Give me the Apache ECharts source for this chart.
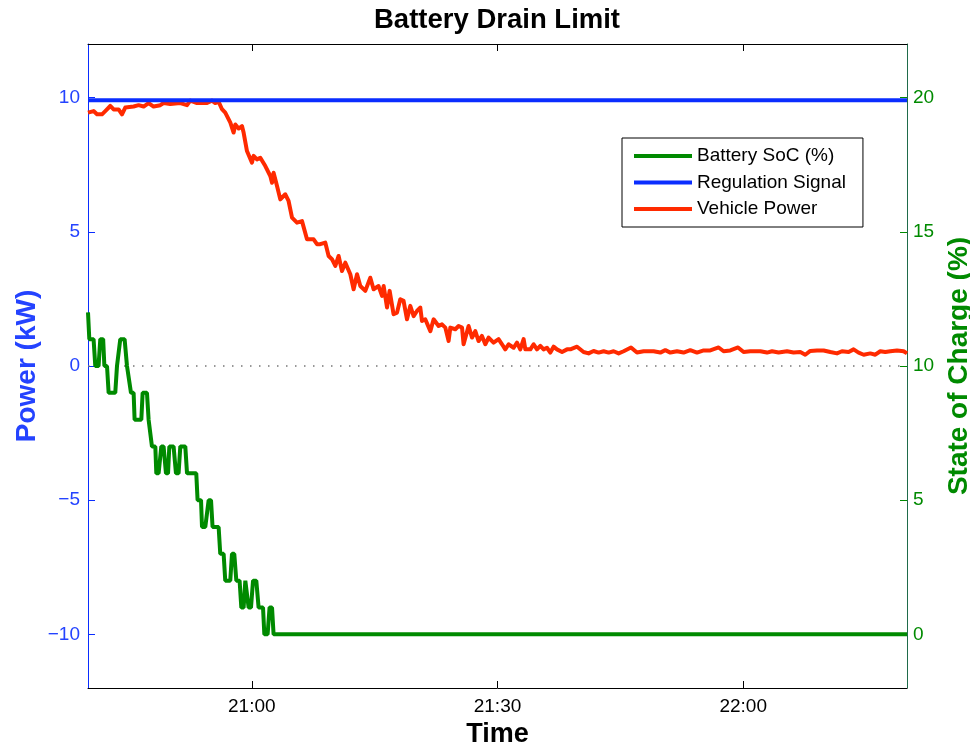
<!DOCTYPE html>
<html>
<head>
<meta charset="utf-8">
<script src="https://cdn.jsdelivr.net/npm/echarts@6/dist/echarts.min.js"></script>
<style>html,body{margin:0;padding:0;background:#fff;overflow:hidden;}#chart{width:970px;height:745px;}</style>
</head>
<body>
<div id="chart"></div>
<script>
// Time is given in minutes after 20:00
const timeTicks = [60, 90, 120];
const timeTickLabels = ['21:00', '21:30', '22:00'];
const powerTicks = [-10, -5, 0, 5, 10];
const socTicks = [0, 5, 10, 15, 20];

const regulationTime = [40, 140];
const regulationKW = [9.9, 9.9];

const vehicleTime = [40.00,40.68,41.10,41.71,42.11,42.72,43.13,43.74,44.15,44.55,45.57,46.18,46.79,47.40,48.01,48.83,49.23,50.05,51.27,52.09,52.49,53.31,54.53,55.14,55.54,55.95,56.36,56.76,56.97,57.38,57.78,57.99,58.39,58.80,59.00,59.41,60.02,60.22,60.63,61.04,61.65,62.26,62.47,62.66,63.08,63.48,64.09,64.49,64.91,65.52,66.13,66.74,67.55,67.96,68.36,68.97,69.38,69.79,70.20,70.60,71.01,71.42,72.03,72.43,72.85,73.25,73.86,74.47,74.87,75.48,75.90,76.10,76.51,76.83,77.31,77.73,78.13,78.53,78.95,79.35,79.76,80.17,80.57,80.78,81.18,81.80,82.20,82.81,83.22,83.63,84.03,84.24,84.85,85.25,85.67,85.86,86.47,86.89,87.29,87.69,88.10,88.51,88.91,89.52,90.13,90.55,90.95,91.36,91.97,92.38,92.78,93.19,93.40,94.01,94.41,94.82,95.23,95.63,96.04,96.45,96.85,97.26,97.88,98.49,98.89,99.71,100.51,101.12,101.73,102.34,102.96,103.57,104.18,104.79,105.40,106.30,107.03,107.84,109.06,109.88,110.49,111.10,111.92,112.72,113.54,114.36,115.17,115.98,117.00,117.61,118.42,119.37,120.05,120.87,122.09,122.91,123.52,124.32,125.35,126.15,126.97,127.58,128.19,129.01,129.82,130.64,131.45,132.06,132.87,133.48,134.09,134.71,135.52,136.13,136.74,137.35,137.96,138.78,139.59,140.00];
const vehicleKW = [9.44,9.50,9.38,9.38,9.50,9.69,9.56,9.56,9.38,9.63,9.67,9.72,9.67,9.80,9.67,9.72,9.80,9.76,9.80,9.72,9.89,9.80,9.80,9.89,9.80,9.85,9.57,9.44,9.38,9.07,8.70,9.00,8.85,8.94,8.70,8.01,7.58,7.83,7.70,7.76,7.45,7.08,6.83,7.20,6.71,6.21,6.40,6.15,5.53,5.34,5.40,4.72,4.72,4.54,4.54,4.60,4.10,3.98,3.73,4.10,3.54,3.85,3.42,2.86,3.42,2.98,2.80,3.29,2.86,2.98,2.61,2.98,2.18,2.80,1.93,1.99,2.49,2.43,1.74,2.24,1.86,2.05,2.18,1.68,1.74,1.30,1.74,1.49,1.55,1.43,0.93,1.43,1.37,1.49,1.43,0.81,1.49,1.06,1.30,0.93,1.12,0.81,1.06,0.87,1.00,0.81,0.62,0.81,0.68,0.87,0.62,1.00,0.62,0.62,0.81,0.62,0.75,0.62,0.68,0.50,0.72,0.62,0.52,0.62,0.62,0.72,0.52,0.47,0.56,0.50,0.55,0.50,0.55,0.47,0.55,0.69,0.50,0.55,0.55,0.50,0.59,0.50,0.55,0.50,0.59,0.50,0.58,0.58,0.69,0.55,0.58,0.69,0.52,0.55,0.55,0.50,0.55,0.50,0.55,0.50,0.52,0.42,0.56,0.58,0.58,0.52,0.47,0.55,0.52,0.62,0.50,0.42,0.47,0.42,0.55,0.52,0.55,0.58,0.55,0.47];

const socTime = [40.00,40.16,40.68,40.89,41.29,41.50,41.85,42.00,42.32,42.52,43.33,43.54,43.74,43.94,44.47,44.76,44.96,45.25,45.57,45.69,46.51,46.67,47.20,47.40,47.61,47.81,48.22,48.34,48.62,48.95,49.23,49.52,49.77,49.93,50.45,50.74,51.06,51.27,51.88,52.09,53.22,53.38,53.80,53.92,54.32,54.73,55.02,55.21,55.95,56.15,56.56,56.76,57.37,57.58,57.86,58.11,58.51,58.72,59.00,59.21,59.41,59.61,59.90,60.15,60.55,60.83,61.37,61.53,61.93,62.17,62.47,62.66,140.00];
const socPct = [12,11,11,10,10,11,11,10,10,9,9,10,10,11,11,10,10,9,9,8,8,9,9,8,8,7,7,6,6,7,7,6,6,7,7,6,6,7,7,6,6,5,5,4,4,5,5,4,4,3,3,2,2,3,3,2,2,1,1,2,2,1,1,2,2,1,1,0,0,1,1,0,0];

const FONT = '"Liberation Sans", Arial, Helvetica, sans-serif';
const BLUE = '#0a2dff';
const BLUE_TXT = '#2443ff';
const GREEN = '#008a00';
const RED = '#ff2a00';

const pairs = (xs, ys) => xs.map((x, i) => [x, ys[i]]);
const minus = v => (v < 0 ? '\u2212' + Math.abs(v) : String(v));

const chart = echarts.init(document.getElementById('chart'), null, {renderer: 'canvas'});
chart.setOption({
  animation: false,
  backgroundColor: '#fff',
  title: {
    text: 'Battery Drain Limit',
    left: 369, top: 1,
    textStyle: {fontFamily: FONT, fontSize: 27.5, fontWeight: 'bold', color: '#000'}
  },
  grid: {left: 88, right: 63, top: 44, bottom: 57, containLabel: false, outerBoundsMode: 'none'},
  legend: {
    orient: 'vertical', left: 622, top: 138,
    padding: [8, 17, 8, 12], itemGap: 6.5,
    itemWidth: 58, itemHeight: 4, icon: 'rect',
    borderColor: '#000', borderWidth: 1, backgroundColor: '#fff',
    textStyle: {fontFamily: FONT, fontSize: 19, color: '#000', lineHeight: 20},
    data: ['Battery SoC (%)', 'Regulation Signal', 'Vehicle Power']
  },
  xAxis: [{
    type: 'value', position: 'bottom', min: 40, max: 140,
    name: 'Time', nameLocation: 'middle', nameGap: 30,
    nameTextStyle: {fontFamily: FONT, fontSize: 27, fontWeight: 'bold', color: '#000'},
    axisLine: {show: true, onZero: false, lineStyle: {color: '#000', width: 1}},
    axisTick: {show: true, inside: true, length: 7, customValues: timeTicks, lineStyle: {color: '#000'}},
    axisLabel: {customValues: timeTicks, margin: 9, fontFamily: FONT, fontSize: 19, color: '#000',
      formatter: v => timeTickLabels[timeTicks.indexOf(v)]},
    splitLine: {show: false}
  }, {
    type: 'value', position: 'top', min: 40, max: 140,
    axisLine: {show: true, onZero: false, lineStyle: {color: '#000', width: 1}},
    axisTick: {show: true, inside: true, length: 7, customValues: timeTicks, lineStyle: {color: '#000'}},
    axisLabel: {show: false},
    splitLine: {show: false}
  }],
  yAxis: [{
    type: 'value', position: 'left', min: -12, max: 12,
    name: 'Power (kW)', nameLocation: 'middle', nameGap: 47, nameMoveOverlap: false,
    nameTextStyle: {fontFamily: FONT, fontSize: 28, fontWeight: 'bold', color: BLUE_TXT},
    axisLine: {show: true, onZero: false, lineStyle: {color: BLUE, width: 1}},
    axisTick: {show: true, inside: true, length: 7, customValues: powerTicks, lineStyle: {color: BLUE}},
    axisLabel: {customValues: powerTicks, margin: 8, fontFamily: FONT, fontSize: 19, color: BLUE_TXT, formatter: minus},
    splitLine: {show: false}
  }, {
    type: 'value', position: 'right', min: -2, max: 22,
    name: 'State of Charge (%)', nameLocation: 'middle', nameGap: 36,
    nameTextStyle: {fontFamily: FONT, fontSize: 28, fontWeight: 'bold', color: GREEN},
    axisLine: {show: true, onZero: false, lineStyle: {color: '#1f6b4a', width: 1}},
    axisTick: {show: true, inside: true, length: 7, customValues: socTicks, lineStyle: {color: GREEN}},
    axisLabel: {customValues: socTicks, margin: 6, fontFamily: FONT, fontSize: 19, color: GREEN},
    splitLine: {show: false}
  }],
  series: [{
    name: 'Battery SoC (%)', type: 'line', yAxisIndex: 1, xAxisIndex: 0,
    symbol: 'none', lineStyle: {color: GREEN, width: 4}, itemStyle: {color: GREEN},
    data: pairs(socTime, socPct), z: 3
  }, {
    name: 'Regulation Signal', type: 'line', yAxisIndex: 0, xAxisIndex: 0,
    symbol: 'none', lineStyle: {color: BLUE, width: 4}, itemStyle: {color: BLUE},
    data: pairs(regulationTime, regulationKW), z: 4
  }, {
    name: 'Vehicle Power', type: 'line', yAxisIndex: 0, xAxisIndex: 0,
    symbol: 'none', lineStyle: {color: RED, width: 4, join: 'round'}, itemStyle: {color: RED},
    data: pairs(vehicleTime, vehicleKW), z: 3,
    markLine: {
      silent: true, symbol: 'none', label: {show: false},
      lineStyle: {color: '#777', type: [1.5, 7.5], width: 1.5},
      data: [{yAxis: 0}], z: 1
    }
  }]
});
</script>
</body>
</html>
